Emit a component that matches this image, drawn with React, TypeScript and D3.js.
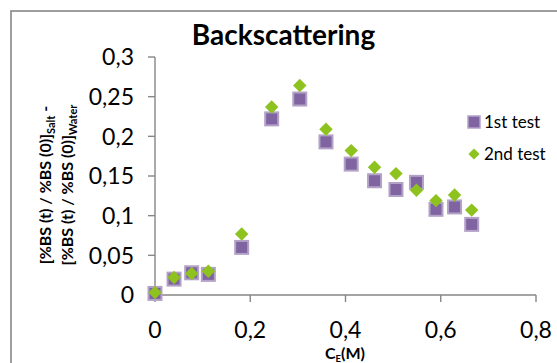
import React from "react";
import * as d3 from "d3";

const xValues = [0, 0.04, 0.077, 0.112, 0.182, 0.245, 0.304, 0.359, 0.412, 0.461, 0.506, 0.549, 0.59, 0.629, 0.665];
const test1 = [0.002, 0.02, 0.028, 0.026, 0.06, 0.222, 0.247, 0.193, 0.165, 0.144, 0.133, 0.142, 0.108, 0.111, 0.089];
const test2 = [0.003, 0.022, 0.027, 0.03, 0.077, 0.237, 0.264, 0.209, 0.182, 0.161, 0.153, 0.132, 0.119, 0.126, 0.107];
const xTicks = [0, 0.2, 0.4, 0.6, 0.8];
const yTicks = [0, 0.05, 0.1, 0.15, 0.2, 0.25, 0.3];
const seriesNames = ["1st test", "2nd test"];

const FONT = "Lato, 'Open Sans', sans-serif";
const AXIS = "#868686";
const PURPLE = "#8064A2";
const PURPLE_EDGE = "#B3A2C7";
const GREEN = "#8DC21F";

const fmt = (v: number) => String(+v.toFixed(2)).replace(".", ",");

export default function App() {
  const x = d3.scaleLinear().domain([0, 0.8]).range([155, 536]);
  const y = d3.scaleLinear().domain([0, 0.3]).range([295, 57]);
  const diamond = d3.symbol().type(d3.symbolDiamond2).size(115)();

  return (
    <svg width={557} height={363} style={{ position: "fixed", left: 0, top: 0 }} fontFamily={FONT}>
      <rect x={0} y={0} width={557} height={363} fill="#fff" />
      <rect x={11} y={11} width={600} height={400} fill="none" stroke={AXIS} strokeWidth={1.6} />
      <text x={283.5} y={45} textAnchor="middle" fontWeight="bold" fontSize={28} fill="#000">Backscattering</text>

      {/* axes */}
      <line x1={x(0)} x2={x(0.8)} y1={y(0)} y2={y(0)} stroke={AXIS} strokeWidth={1.4} />
      <line x1={x(0)} x2={x(0)} y1={y(0)} y2={y(0.3)} stroke={AXIS} strokeWidth={1.4} />
      {xTicks.map((t) => (
        <g key={"xt" + t}>
          <line x1={x(t)} x2={x(t)} y1={y(0)} y2={y(0) + 7} stroke={AXIS} strokeWidth={1.4} />
          <text x={x(t)} y={338} textAnchor="middle" fontSize={23} fill="#000">{fmt(t)}</text>
        </g>
      ))}
      {yTicks.map((t) => (
        <g key={"yt" + t}>
          <line x1={x(0) - 7} x2={x(0)} y1={y(t)} y2={y(t)} stroke={AXIS} strokeWidth={1.4} />
          <text x={134} y={y(t) + 8.3} textAnchor="end" fontSize={23} fill="#000">{fmt(t)}</text>
        </g>
      ))}

      {/* axis titles */}
      <text x={345} y={359} textAnchor="middle" fontWeight="bold" fontSize={16} fill="#000">
        C<tspan fontSize={9.5} dy={3}>E</tspan><tspan dy={-3}>(M)</tspan>
      </text>
      <g transform="translate(51,185) rotate(-90)">
        <text x={0} y={0} textAnchor="middle" fontWeight="bold" fontSize={16} fill="#000">
          [%BS (t) / %BS (0)]<tspan fontSize={11} dy={4}>Salt</tspan><tspan dy={-4}> -</tspan>
        </text>
      </g>
      <g transform="translate(73,185) rotate(-90)">
        <text x={0} y={0} textAnchor="middle" fontWeight="bold" fontSize={16} fill="#000">
          [%BS (t) / %BS (0)]<tspan fontSize={11} dy={4}>Water</tspan>
        </text>
      </g>

      {/* series 1: squares */}
      {xValues.map((xv, i) => (
        <rect key={"s1" + i} x={x(xv) - 6.5} y={y(test1[i]) - 6.5} width={13} height={13}
          fill={PURPLE} stroke={PURPLE_EDGE} strokeWidth={2} />
      ))}
      {/* series 2: diamonds */}
      {xValues.map((xv, i) => (
        <path key={"s2" + i} d={diamond as string} transform={`translate(${x(xv)},${y(test2[i])})`} fill={GREEN} />
      ))}

      {/* legend */}
      <rect x={468} y={116} width={12} height={12} fill={PURPLE} stroke={PURPLE_EDGE} strokeWidth={1.5} />
      <text x={484} y={128} fontSize={17} fill="#000">{seriesNames[0]}</text>
      <path d={d3.symbol().type(d3.symbolDiamond2).size(80)() as string} transform="translate(474,154)" fill={GREEN} />
      <text x={484} y={160} fontSize={17} fill="#000">{seriesNames[1]}</text>
    </svg>
  );
}
